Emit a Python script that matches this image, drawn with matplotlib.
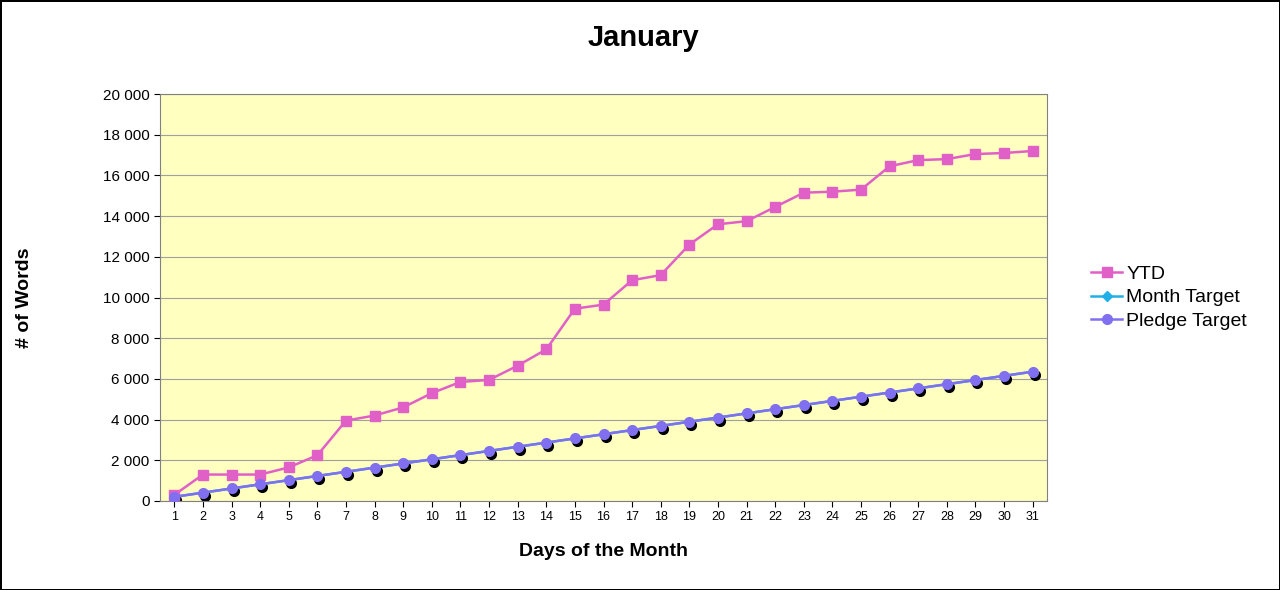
import matplotlib
matplotlib.use("Agg")
import matplotlib.pyplot as plt
import matplotlib.transforms as mtransforms
from matplotlib.ticker import FuncFormatter

plt.rcParams["font.family"] = "Liberation Sans"

days = list(range(1, 32))
ytd = [300, 1300, 1300, 1300, 1650, 2250, 3950, 4200, 4600, 5300, 5850, 5950, 6650, 7450,
       9450, 9650, 10850, 11100, 12600, 13600, 13750, 14450, 15150, 15200, 15300, 16450,
       16750, 16800, 17050, 17100, 17200]
month_target = [205, 410, 615, 820, 1025, 1230, 1435, 1640, 1845, 2050, 2255, 2460, 2665,
                2870, 3075, 3280, 3485, 3690, 3895, 4100, 4305, 4510, 4715, 4920, 5125,
                5330, 5535, 5740, 5945, 6150, 6355]
pledge_target = list(month_target)

fig = plt.figure(figsize=(12.8, 5.9), dpi=100)
fig.patch.set_edgecolor("black"); fig.patch.set_linewidth(2)
ax = fig.add_axes([160/1280, 1-501/590, (1047-160)/1280, (501-94)/590])
ax.set_facecolor("#ffffc0")
ax.set_xlim(0.5, 31.5); ax.set_ylim(0, 20000)
ax.set_yticks(range(0, 20001, 2000))
ax.yaxis.set_major_formatter(FuncFormatter(lambda v, p: f"{int(v):,}".replace(",", " ")))
ax.set_xticks(days)
ax.tick_params(axis="x", labelsize=9)
ax.tick_params(axis="y", labelsize=11)
ax.grid(axis="y", color="#a0a0a0", lw=0.8); ax.set_axisbelow(True)
for s in ax.spines.values(): s.set_color("#808080")
ax.tick_params(length=4, colors="black")

shadow = mtransforms.offset_copy(ax.transData, fig=fig, x=2, y=-3, units="dots")
ax.plot(days, pledge_target, "o", color="black", ms=7, transform=shadow, zorder=2)
ax.plot(days, ytd, "-s", color="#e060c8", lw=1.8, ms=7, label="YTD", zorder=3)
ax.plot(days, month_target, "-D", color="#20b0e8", lw=1.8, ms=5, label="Month Target", zorder=3)
ax.plot(days, pledge_target, "-o", color="#8070f0", lw=1.8, ms=7, label="Pledge Target", zorder=4)

fig.text(643/1280, 1-38/590, "January", ha="center", va="center", fontsize=21, fontweight="bold")
ax.set_xlabel("Days of the Month", fontsize=14, fontweight="bold", labelpad=14)
ax.set_ylabel("# of Words", fontsize=14, fontweight="bold", labelpad=50)
ax.legend(loc="center left", bbox_to_anchor=(1.03, 0.5), frameon=False, fontsize=14,
          handlelength=1.6, handletextpad=0.2, labelspacing=0.3)
fig.savefig("out.png", dpi=100, edgecolor=fig.get_edgecolor())
